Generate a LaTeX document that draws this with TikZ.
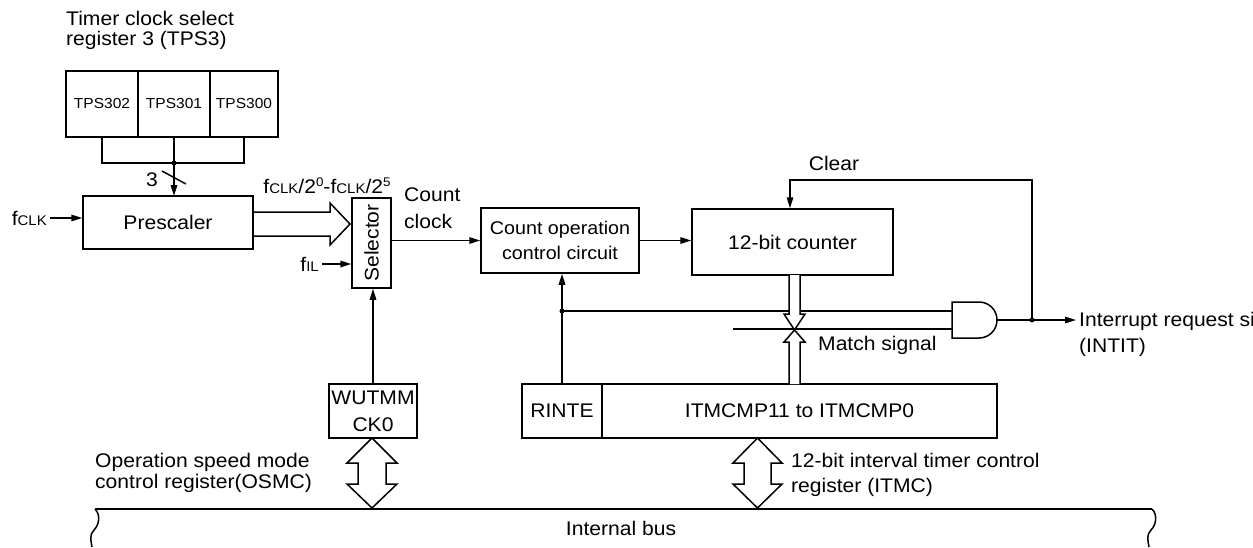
\documentclass[tikz,border=0pt]{standalone}
\usepackage{fontspec}
\setmainfont{Liberation Sans}[FakeStretch=1.07]
\usetikzlibrary{arrows.meta}
\newcommand{\fsub}[1]{f{\fontsize{14}{14}\selectfont #1}}
\newcommand{\sups}[1]{\raisebox{7pt}{\fontsize{12.5}{12}\selectfont #1}}
\begin{document}
\begin{tikzpicture}[x=1pt,y=-1pt,
  wire/.style={line width=1.5pt},
  arr/.style={wire,-{Triangle[length=11pt,width=6.5pt]}},
  box/.style={draw,line width=1.5pt,inner sep=0pt,align=center,font=\fontsize{19.7}{27}\selectfont},
  tpsbox/.style={box,minimum height=66pt,font=\fontsize{14.5}{14}\selectfont},
  lbl/.style={inner sep=0pt,align=left,font=\fontsize{19.7}{25}\selectfont},
  dot/.style={circle,fill,inner sep=0pt,minimum size=5pt}]
\useasboundingbox (0,0) rectangle (1253,547);
\clip (0,0) rectangle (1253,547);

% TPS3 register
\node[lbl,anchor=west,font=\fontsize{19.7}{20}\selectfont] (title) at (66,30) {Timer clock select\\register 3 (TPS3)};
\node[tpsbox,minimum width=72pt] (tps2) at (102,104) {TPS302};
\node[tpsbox,minimum width=72pt] (tps1) at (174,104) {TPS301};
\node[tpsbox,minimum width=68pt] (tps0) at (244,104) {TPS300};
\coordinate (jt) at (174,163);
\draw[wire] (tps2.south) |- (jt) -| (tps0.south);
\draw[arr] (tps1.south) -- (tps1.south |- 0,196);
\node[dot] at (jt) {};
\draw[wire] (162,171) -- (186,184);
\node[lbl] (three) at (152,180) {3};

% Prescaler
\node[box,minimum width=170pt,minimum height=53pt] (pre) at (168,222.5) {Prescaler};
\node[lbl,anchor=east] (fclk) at (47,218) {\fsub{CLK}};
\draw[arr] ([xshift=3pt]fclk.east) -- (fclk.east -| pre.west);
\node[lbl] (ratio) at (327,186) {\fsub{CLK}/2\sups{0}-\fsub{CLK}/2\sups{5}};
\draw[wire] (253,212) -- (330,212) -- (330,203) -- (350,224) -- (330,245) -- (330,236) -- (253,236);

% Selector
\node[box,minimum width=39pt,minimum height=90pt] (sel) at (371.5,243) {};
\node[rotate=90,inner sep=0pt,font=\fontsize{19.7}{25}\selectfont] (selt) at (sel) {Selector};
\node[lbl,anchor=east] (fil) at (319,264) {\fsub{IL}};
\draw[arr] ([xshift=3pt]fil.east) -- (fil.east -| sel.west);
\node[lbl,anchor=west,font=\fontsize{19.7}{27}\selectfont] (cc) at (404,208.5) {Count\\clock};

% Count operation control circuit and counter
\node[box,minimum width=158pt,minimum height=65pt,font=\fontsize{18.4}{25}\selectfont] (cop) at (560,240.5) {Count operation\\control circuit};
\draw[arr] (sel.east |- cop.west) -- (cop.west);
\node[box,minimum width=201pt,minimum height=66pt] (ctr) at (792.5,242) {12-bit counter};
\draw[arr] (cop.east) -- (cop.east -| ctr.west);

% Registers
\node[box,minimum width=88pt,minimum height=54pt] (wut) at (373,411) {WUTMM\\CK0};
\node[box,minimum width=80pt,minimum height=54pt] (rin) at (562,411) {RINTE};
\node[box,minimum width=395pt,minimum height=54pt] (itm) at (799.5,411) {ITMCMP11 to ITMCMP0};
\draw[arr] (wut.north) -- (wut.north |- sel.south);

% feedback from RINTE
\coordinate (jf) at (562,311);
\draw[arr] (rin.north) -- (rin.north |- cop.south);
\node[dot] at (jf) {};

% AND gate
\coordinate (ain1) at (952,311);
\coordinate (ain2) at (952,329);
\coordinate (aout) at (997,320);
\draw[wire] (jf) -- (ain1);
\coordinate (ms) at (733,329);

% match arrows
\draw[wire,fill=white] (789,275) -- (789,314) -- (784,314) -- (794.5,330) -- (805,314) -- (800,314) -- (800,275);
\draw[wire,fill=white] (789,384) -- (789,342) -- (784,342) -- (794.5,330) -- (805,342) -- (800,342) -- (800,384);
\draw[wire] (ms) -- (ain2);
\node[lbl,anchor=west] (match) at (818,345) {Match signal};

\draw[wire,fill=white] (952,302) -- (979,302) .. controls (989,302) and (997,310) .. (997,320)
  .. controls (997,330) and (989,338) .. (979,338) -- (952,338) -- cycle;

% output and clear
\node[lbl,anchor=west,font=\fontsize{19.7}{26}\selectfont] (irq) at (1079,334) {Interrupt request signal\\(INTIT)};
\coordinate (jo) at (1032,320);
\draw[arr] (aout) -- ([xshift=-3pt]aout -| irq.west);
\node[dot] at (jo) {};
\coordinate (clr) at (790,180);
\draw[arr] (jo) |- (clr) -- (clr |- ctr.north);
\node[lbl] (clear) at (834,163) {Clear};

% bus interface arrows
\draw[wire,fill=white] (372,438) -- (397,463) -- (386,463) -- (386,484) -- (397,484) -- (372,508) -- (347,484) -- (358,484) -- (358,463) -- (347,463) -- cycle;
\draw[wire,fill=white] (757.5,438) -- (782,463) -- (771,463) -- (771,484) -- (782,484) -- (757.5,508) -- (733,484) -- (744,484) -- (744,463) -- (733,463) -- cycle;
\node[lbl,anchor=west,font=\fontsize{19.7}{21}\selectfont] (osmc) at (95,472.5) {Operation speed mode\\control register(OSMC)};
\node[lbl,anchor=west,font=\fontsize{19.7}{25}\selectfont] (itmc) at (791,474.5) {12-bit interval timer control\\register (ITMC)};

% internal bus
\draw[line width=2.2pt] (95,509) -- (1152,509);
\draw[wire] (95,509) .. controls (101,515) and (99,525) .. (94,530) .. controls (89,535) and (91,541) .. (92,547);
\draw[wire] (1152,509) .. controls (1158,515) and (1156,525) .. (1151,530) .. controls (1146,535) and (1148,541) .. (1149,547);
\node[lbl] (bus) at (621,528) {Internal bus};
\end{tikzpicture}
\end{document}
